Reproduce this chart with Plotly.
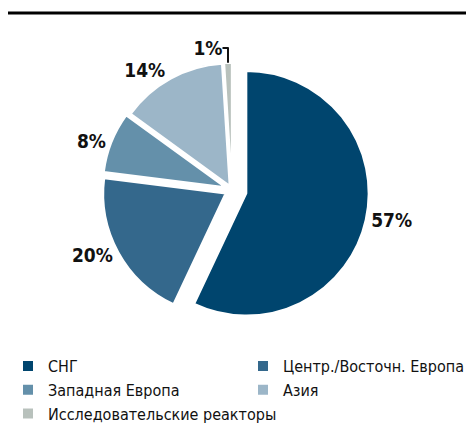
import plotly.graph_objects as go

# доли рынка по регионам, %
regions = ["СНГ", "Центр./Восточн. Европа", "Западная Европа", "Азия",
           "Исследовательские реакторы"]
shares = [57, 20, 8, 14, 1]
pulls = [0.12, 0.06, 0.06, 0.04, 0.04]
colors = ["#00456e", "#34688c", "#6490aa", "#9cb6c8", "#b8c1bc"]

W, H = 474, 439
cx, cy, half = 224, 182, 137

FONT = "DejaVu Sans Condensed"

fig = go.Figure(go.Pie(
    labels=regions,
    values=shares,
    sort=False,
    direction="clockwise",
    rotation=0,
    pull=pulls,
    marker=dict(colors=colors, line=dict(color="white", width=2)),
    texttemplate="%{value}%",
    textposition="outside",
    outsidetextfont=dict(family=FONT, size=19, color="#111", weight="bold"),
    hoverinfo="label+percent",
    domain=dict(x=[(cx - half) / W, (cx + half) / W],
                y=[1 - (cy + half) / H, 1 - (cy - half) / H]),
))

fig.update_layout(
    width=W, height=H,
    margin=dict(l=0, r=0, t=0, b=0, autoexpand=False),
    paper_bgcolor="white",
    plot_bgcolor="white",
    showlegend=True,
    legend=dict(
        orientation="h",
        x=0.0, xanchor="left",
        y=0.223, yanchor="top",
        entrywidth=190, entrywidthmode="pixels",
        bgcolor="rgba(0,0,0,0)",
        font=dict(family=FONT, size=16, color="#111"),
        traceorder="normal",
    ),
    shapes=[dict(type="line", xref="paper", yref="paper",
                 x0=0, x1=1, y0=1 - 5 / H, y1=1 - 5 / H,
                 line=dict(color="black", width=3))],
)

fig.write_html("out.html")
